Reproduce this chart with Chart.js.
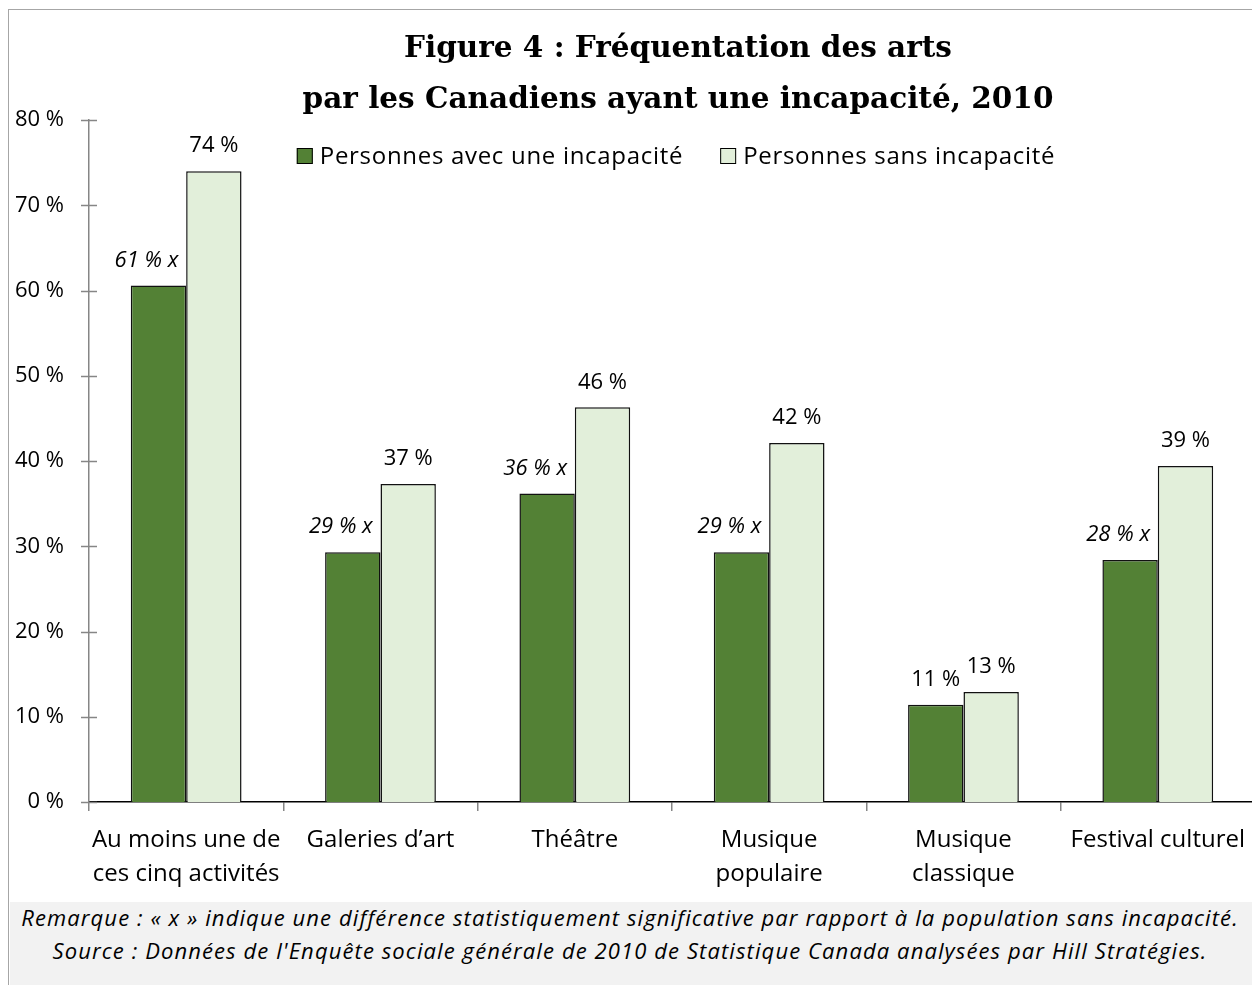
<!DOCTYPE html>
<html>
<head>
<meta charset="utf-8">
<script src="https://cdn.jsdelivr.net/npm/chart.js@4.4.1/dist/chart.umd.min.js"></script>
<style>
  body { margin: 0; background: #fff; }
  #wrap { position: relative; width: 1252px; height: 985px; overflow: hidden; }
  #frame { position: absolute; left: 8px; top: 9px; width: 1270px; height: 1000px; border: 1.5px solid #a6a6a6; }
  #box { position: absolute; left: 0; top: 0; width: 1257px; height: 900px; }
  #note { position: absolute; left: 10px; top: 902px; width: 1250px; height: 90px; background: #f2f2f2;
          font-family: "Open Sans", sans-serif; font-style: italic; font-size: 22px; letter-spacing: 1.1px; color: #000; }
  #note div { position: absolute; left: 0; width: 1240px; text-align: center; white-space: nowrap; }
</style>
</head>
<body>
<div id="wrap">
  <div id="frame"></div>
  <div id="box"><canvas id="chart"></canvas></div>
  <div id="note">
    <div style="top:0px">Remarque : « x » indique une différence statistiquement significative par rapport à la population sans incapacité.</div>
    <div style="top:33px">Source : Données de l'Enquête sociale générale de 2010 de Statistique Canada analysées par Hill Stratégies.</div>
  </div>
</div>
<script>
const titleLines = ['Figure 4 : Fréquentation des arts', 'par les Canadiens ayant une incapacité, 2010'];
const categories = [['Au moins une de', 'ces cinq activités'], 'Galeries d’art', 'Théâtre', ['Musique', 'populaire'], ['Musique', 'classique'], 'Festival culturel'];
const seriesNames = ['Personnes avec une incapacité', 'Personnes sans incapacité'];
const withDisability = [60.6, 29.3, 36.2, 29.3, 11.4, 28.4];
const withoutDisability = [74.0, 37.3, 46.3, 42.1, 12.9, 39.4];
const labelsWith = ['61 % x', '29 % x', '36 % x', '29 % x', '11 %', '28 % x'];
const labelsWithout = ['74 %', '37 %', '46 %', '42 %', '13 %', '39 %'];
const significant = [true, true, true, true, false, true];

const DARK = '#538135';
const LIGHT = '#e2efda';
const FONT = '"Open Sans"';

// titre, légende, petites graduations et étiquettes des barres
const decor = {
    id: 'decor',
    afterDraw(chart) {
        const ctx = chart.ctx;
        const y = chart.scales.y;
        ctx.save();

        // graduations de l'axe vertical (qui croisent l'axe)
        ctx.strokeStyle = '#868686';
        ctx.lineWidth = 1.5;
        y.ticks.forEach(t => {
            const py = Math.round(y.getPixelForValue(t.value)) + 0.5;
            ctx.beginPath();
            ctx.moveTo(y.right - 8, py);
            ctx.lineTo(y.right + 8, py);
            ctx.stroke();
        });

        // titre
        ctx.fillStyle = '#000';
        ctx.textAlign = 'center';
        ctx.textBaseline = 'middle';
        ctx.font = 'bold 29.5px "DejaVu Serif"';
        ctx.fillText(titleLines[0], 678, 49);
        ctx.fillText(titleLines[1], 678, 100);

        // légende
        ctx.font = '24px ' + FONT;
        ctx.letterSpacing = '0.7px';
        ctx.textAlign = 'left';
        const box = 16, gap = 7, between = 37;
        const widths = seriesNames.map(n => box + gap + ctx.measureText(n).width);
        let lx = 676 - (widths[0] + widths[1] + between) / 2;
        const ly = 156;
        seriesNames.forEach((name, i) => {
            ctx.fillStyle = i === 0 ? DARK : LIGHT;
            ctx.fillRect(lx, ly - box / 2, box, box);
            ctx.strokeStyle = '#000';
            ctx.lineWidth = 1;
            ctx.strokeRect(lx + 0.5, ly - box / 2 + 0.5, box - 1, box - 1);
            ctx.fillStyle = '#000';
            ctx.fillText(name, lx + box + gap, ly + 1);
            lx += widths[i] + between;
        });
        ctx.letterSpacing = '0px';

        // étiquettes de valeurs
        ctx.textAlign = 'center';
        const m0 = chart.getDatasetMeta(0).data;
        const m1 = chart.getDatasetMeta(1).data;
        m0.forEach((bar, i) => {
            ctx.font = (significant[i] ? 'italic ' : '') + '22px ' + FONT;
            const dx = significant[i] ? -12 : 0;
            ctx.fillText(labelsWith[i], bar.x + dx, bar.y - 25);
        });
        ctx.font = '22px ' + FONT;
        m1.forEach((bar, i) => {
            ctx.fillText(labelsWithout[i], bar.x, bar.y - 25);
        });
        ctx.restore();
    }
};

new Chart(document.getElementById('chart'), {
    type: 'bar',
    data: {
        labels: categories,
        datasets: [
            { label: seriesNames[0], data: withDisability, backgroundColor: DARK, borderColor: '#111', borderWidth: 1.5 },
            { label: seriesNames[1], data: withoutDisability, backgroundColor: LIGHT, borderColor: '#111', borderWidth: 1.5 }
        ]
    },
    options: {
        responsive: true,
        maintainAspectRatio: false,
        animation: false,
        categoryPercentage: 0.57,
        barPercentage: 1.0,
        layout: { padding: { top: 120, left: 0, right: 0, bottom: 0 } },
        plugins: { legend: { display: false }, title: { display: false }, tooltip: { enabled: false } },
        scales: {
            x: {
                grid: { offset: true, drawOnChartArea: false, tickLength: 9, color: '#868686', lineWidth: 1.5 },
                border: { color: '#000', width: 1.5 },
                ticks: { color: '#000', font: { family: 'Open Sans', size: 24, lineHeight: 1.42 }, padding: 12, maxRotation: 0, autoSkip: false },
                afterFit(scale) { scale.height = 98; }
            },
            y: {
                min: 0,
                max: 80,
                grid: { display: false },
                border: { color: '#868686', width: 1.5 },
                ticks: { stepSize: 10, color: '#000', font: { family: 'Open Sans', size: 22 }, padding: 17, callback: v => v + ' %' },
                afterFit(scale) { scale.width = 89; }
            }
        }
    },
    plugins: [decor]
});
</script>
</body>
</html>
